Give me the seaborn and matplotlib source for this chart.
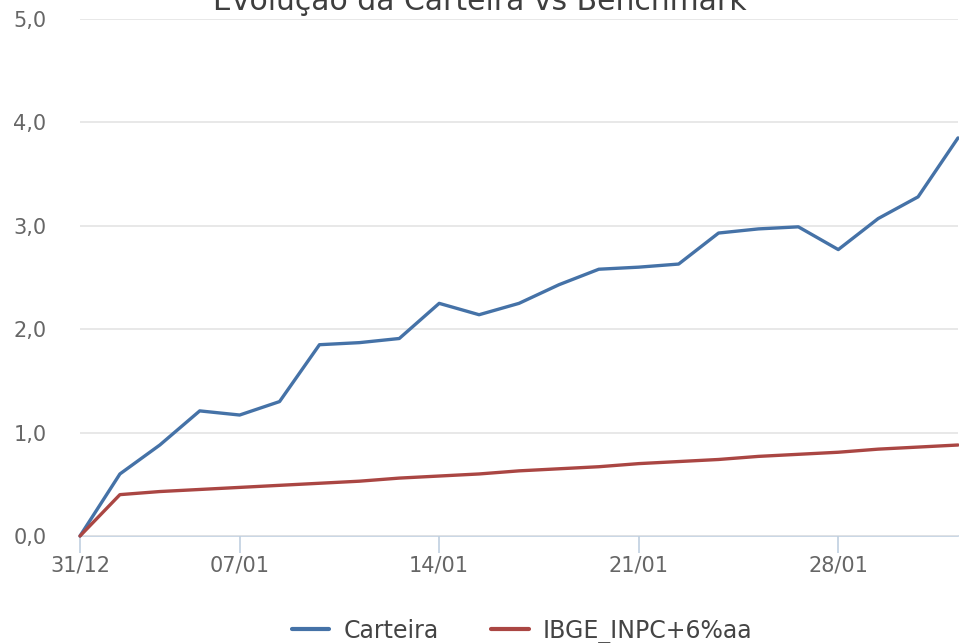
import numpy as np
import pandas as pd
import seaborn as sns
import matplotlib.pyplot as plt
from matplotlib.ticker import FuncFormatter

# pregões de 31/12 a 31/01 (rentabilidade acumulada, %)
dates = ["31/12", "02/01", "03/01", "06/01", "07/01", "08/01", "09/01", "10/01",
         "13/01", "14/01", "15/01", "16/01", "17/01", "20/01", "21/01", "22/01",
         "23/01", "24/01", "27/01", "28/01", "29/01", "30/01", "31/01"]
carteira = [0.00, 0.60, 0.88, 1.21, 1.17, 1.30, 1.85, 1.87, 1.91, 2.25, 2.14, 2.25,
            2.43, 2.58, 2.60, 2.63, 2.93, 2.97, 2.99, 2.77, 3.07, 3.28, 3.85]
benchmark = [0.00, 0.40, 0.43, 0.45, 0.47, 0.49, 0.51, 0.53, 0.56, 0.58, 0.60, 0.63,
             0.65, 0.67, 0.70, 0.72, 0.74, 0.77, 0.79, 0.81, 0.84, 0.86, 0.88]
tick_labels = ["31/12", "07/01", "14/01", "21/01", "28/01"]

series = ["Carteira", "IBGE_INPC+6%aa"]
colors = {"Carteira": "#4572A7", "IBGE_INPC+6%aa": "#AA4643"}

df = pd.DataFrame({
    "idx": list(range(len(dates))) * 2,
    "valor": carteira + benchmark,
    "serie": [series[0]] * len(dates) + [series[1]] * len(dates),
})

sns.set_style("white")
plt.rcParams["font.family"] = ["DejaVu Sans"]

fig = plt.figure(figsize=(9.59, 6.43), dpi=100)
ax = fig.add_axes([80 / 959, 1 - 536 / 643, 878 / 959, 517 / 643])

sns.lineplot(data=df, x="idx", y="valor", hue="serie", palette=colors,
             linewidth=2.4, ax=ax, legend=False, clip_on=False)

ax.set_xlim(0, len(dates) - 1)
ax.set_ylim(0, 5)
ax.set_yticks(np.arange(0, 5.1, 1))
ax.yaxis.set_major_formatter(FuncFormatter(lambda v, p: f"{v:.1f}".replace(".", ",")))
ax.set_xticks([dates.index(t) for t in tick_labels])
ax.set_xticklabels(tick_labels)
ax.grid(axis="y", color="#E4E4E4", linewidth=1.2)
ax.set_xlabel("")
ax.set_ylabel("")

for s in ["top", "right", "left"]:
    ax.spines[s].set_visible(False)
ax.spines["bottom"].set_color("#C0D0E0")
ax.spines["bottom"].set_linewidth(1.2)
ax.spines["bottom"].set_zorder(0)
ax.tick_params(axis="x", bottom=True, colors="#C0D0E0", length=12, width=1.2,
               direction="out", labelcolor="#666666", labelsize=15, pad=2)
ax.tick_params(axis="y", left=False, length=0, labelcolor="#666666", labelsize=15, pad=48)
for lbl in ax.get_yticklabels():
    lbl.set_horizontalalignment("left")

fig.text(0.5, 1 - 10 / 643, "Evolução da Carteira vs Benchmark", ha="center",
         va="baseline", fontsize=21.5, color="#3E3E3E")

handles = [plt.Line2D([], [], color=colors[s], linewidth=3) for s in series]
fig.legend(handles, series, loc="center", bbox_to_anchor=(522 / 959, 1 - 631 / 643),
           ncol=2, frameon=False, fontsize=17, handlelength=1.6, columnspacing=2.2,
           handletextpad=0.6, labelcolor="#444444")

fig.savefig("out.png", dpi=100)
